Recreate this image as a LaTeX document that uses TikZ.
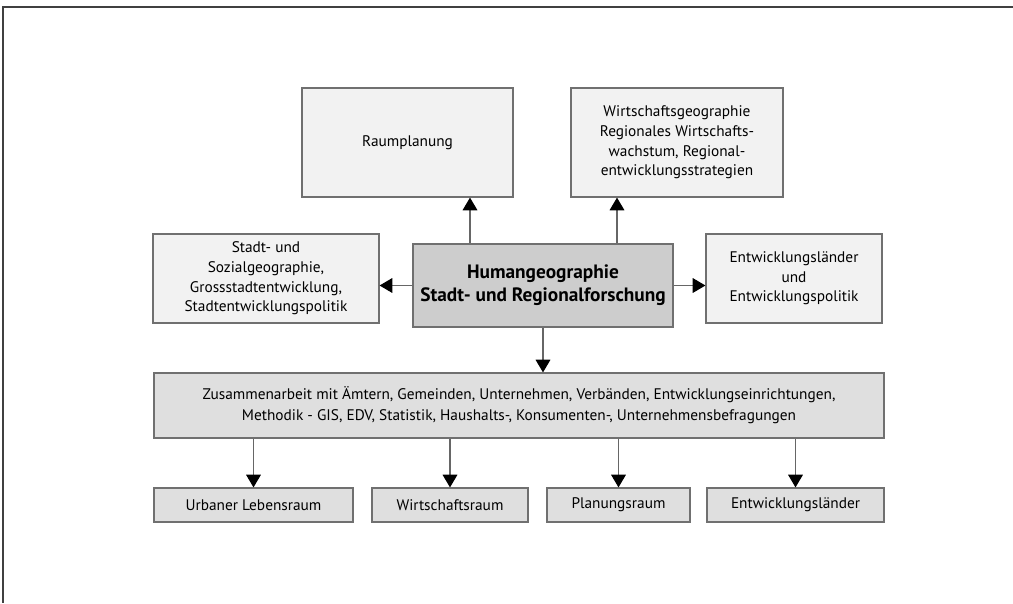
\documentclass[tikz,border=0pt]{standalone}
\usepackage{fontspec}
\setmainfont{PT Sans}
\usepackage{tikz}
\usetikzlibrary{arrows.meta,calc}
\usepackage{xcolor}
\definecolor{hell}{HTML}{F2F2F2}
\definecolor{mittel}{HTML}{DFDFDF}
\definecolor{dunkel}{HTML}{CDCDCD}
\definecolor{rand}{HTML}{707070}

\begin{document}
\begin{tikzpicture}[x=0.75pt, y=-0.75pt, >={Triangle[width=11pt,length=9.5pt,black]},
  box/.style={draw=rand, line width=0.9pt, align=center, inner sep=0pt,
    font=\fontsize{11.5}{14.7}\selectfont},
  pfeil/.style={->, draw=black!60, line width=0.9pt}]
\useasboundingbox (0,0) rectangle (1013,603);
\draw[black!75, line width=0.8pt] (1013,7) -- (3,7) -- (3,603);
% obere Reihe
\node[box, fill=hell, minimum width=158.25pt, minimum height=81.75pt] (raum) at (407.5,142.5)
  {Raumplanung};
\node[box, fill=hell, minimum width=159pt, minimum height=81.75pt] (wirt) at (677,142.5)
  {Wirtschaftsgeographie\\Regionales Wirtschafts-\\wachstum, Regional-\\entwicklungsstrategien};
% mittlere Reihe
\node[box, fill=hell, minimum width=169.5pt, minimum height=66.75pt] (stadt) at (266,278.5)
  {Stadt- und\\Sozialgeographie,\\Grossstadtentwicklung,\\Stadtentwicklungspolitik};
\node[box, fill=dunkel, minimum width=195pt, minimum height=62.25pt,
  font=\fontsize{14.5}{17.5}\selectfont\bfseries] (human) at (543,285.5)
  {Humangeographie\\Stadt- und Regionalforschung};
\node[box, fill=hell, minimum width=132pt, minimum height=66.75pt] (entw) at (794,278.5)
  {Entwicklungsländer\\und\\Entwicklungspolitik};
\node[box, fill=mittel, minimum width=547.5pt, minimum height=48.75pt,
  font=\fontsize{11.5}{15.5}\selectfont] (zus) at (519,405.5)
  {Zusammenarbeit mit Ämtern, Gemeinden, Unternehmen, Verbänden, Entwicklungseinrichtungen,\\
   Methodik - GIS, EDV, Statistik, Haushalts-, Konsumenten-, Unternehmensbefragungen};
% untere Reihe
\foreach \n/\x/\w/\t in {urb/253.5/149.25pt/Urbaner Lebensraum, wr/450/117pt/Wirtschaftsraum,
  plan/618.5/107.25pt/Planungsraum, el/795.5/132.75pt/Entwicklungsländer}
  {\node[box, fill=mittel, minimum width=\w, minimum height=25.5pt] (\n) at (\x,505) {\t};}
% Pfeile
\draw[pfeil] ([xshift=-54.75pt]human.north) -- ([xshift=-54.75pt]human.north |- raum.south);
\draw[pfeil] ([xshift=55.5pt]human.north) -- ([xshift=55.5pt]human.north |- wirt.south);
\draw[pfeil] (human.west) -- (human.west -| stadt.east);
\draw[pfeil] (human.east) -- (human.east -| entw.west);
\draw[pfeil] (human.south) -- (human.south |- zus.north);
\foreach \n in {urb,wr,plan,el}
  {\draw[pfeil] (\n.north |- zus.south) -- (\n.north);}
\end{tikzpicture}
\end{document}
